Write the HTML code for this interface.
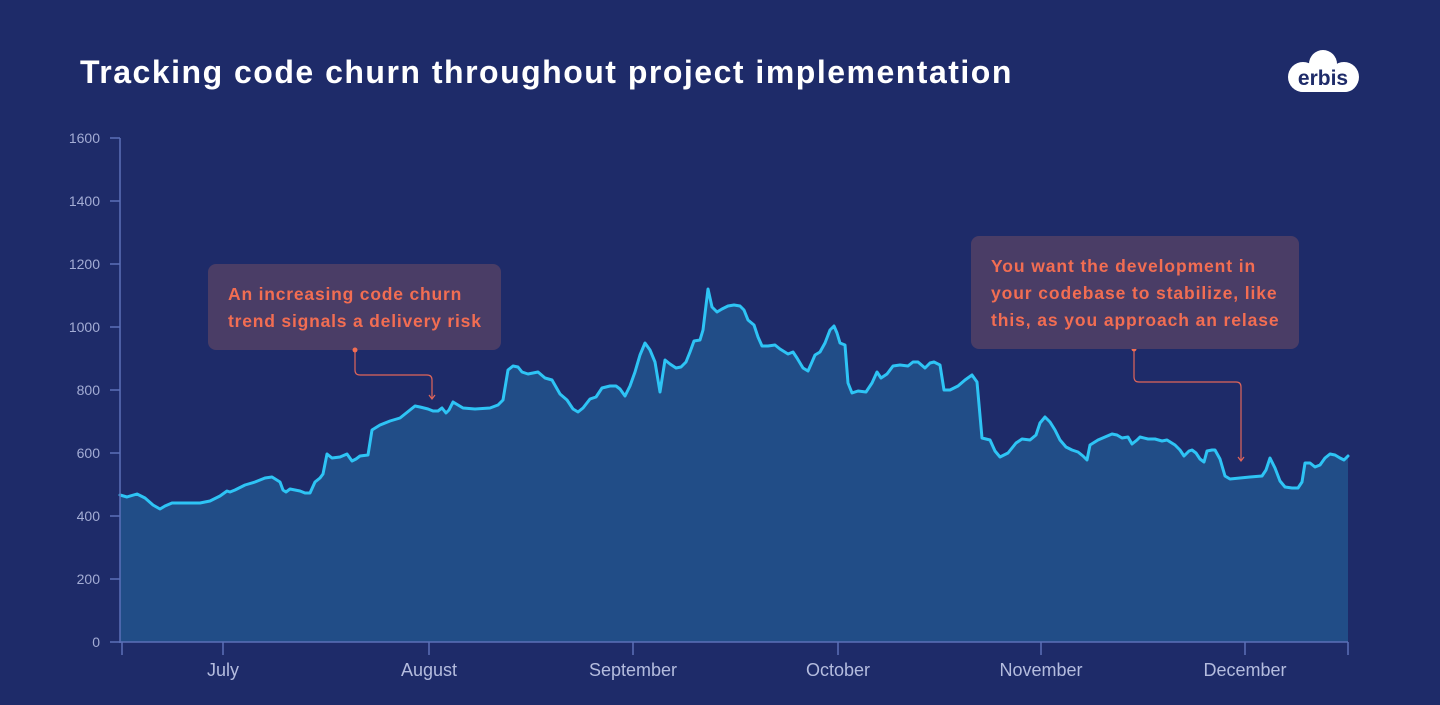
<!DOCTYPE html>
<html><head><meta charset="utf-8"><style>
body{margin:0;width:1440px;height:700px;background:#1e2b69;overflow:hidden;font-family:"Liberation Sans",sans-serif}
</style></head><body>
<svg width="1440" height="700" viewBox="0 0 1440 700" xmlns="http://www.w3.org/2000/svg">
<rect width="1440" height="700" fill="#1e2b69"/>
<text x="80" y="83" fill="#fff" font-size="32" font-weight="bold" letter-spacing="1.5" font-family="Liberation Sans, sans-serif">Tracking code churn throughout project implementation</text>
<!-- logo -->
<g fill="#fff">
<circle cx="1323" cy="64" r="14"/><circle cx="1303" cy="77" r="15"/><circle cx="1344" cy="77" r="15"/>
<rect x="1290" y="66" width="68" height="26" rx="13"/>
</g>
<text x="1323" y="85" text-anchor="middle" fill="#1e2b69" font-size="21" font-weight="bold" font-family="Liberation Sans, sans-serif">erbis</text>
<!-- area -->
<polygon fill="#214d87" points="120,642 120,495 127,497 137,494 145,498 153,505 160,509 165,506 172,503 185,503 200,503 210,501 220,496 227,491 230,492 235,490 245,485 255,482 265,478 272,477 280,482 283,490 286,492 290,489 300,491 305,493 310,493 315,482 320,478 323,474 327,454 332,458 340,457 347,454 352,461 356,459 360,456 368,455 372,430 380,425 390,421 400,418 405,414 410,410 415,406 420,407 428,409 433,411 438,411 442,408 446,413 449,410 453,402 458,405 463,408 475,409 490,408 498,405 503,400 508,370 513,366 518,367 522,372 528,374 533,373 538,372 545,378 552,380 560,394 567,400 573,409 578,412 583,408 590,399 596,397 602,388 610,386 616,386 620,389 625,396 630,386 635,372 640,355 645,343 650,350 655,362 660,392 665,360 670,364 676,368 681,367 686,362 690,352 694,341 700,340 703,330 708,289 712,307 717,312 722,309 728,306 734,305 740,306 744,310 748,320 754,325 758,337 762,346 768,346 775,345 780,349 788,354 793,352 797,358 803,368 808,371 812,362 815,355 820,352 825,343 830,330 834,326 837,333 840,343 845,345 848,383 852,393 858,391 866,392 872,383 877,372 881,378 887,374 893,366 900,365 908,366 913,362 918,362 925,368 930,363 934,362 940,365 944,390 950,390 958,386 965,380 972,375 977,382 982,438 990,440 995,451 1000,457 1008,453 1016,443 1022,439 1030,440 1036,435 1040,423 1045,417 1050,422 1055,430 1060,440 1066,447 1072,450 1078,452 1083,456 1087,460 1090,445 1098,440 1105,437 1112,434 1117,435 1122,438 1128,437 1132,444 1137,440 1140,437 1148,439 1155,439 1162,441 1167,440 1175,445 1180,450 1184,456 1189,451 1192,450 1196,453 1200,459 1204,462 1207,451 1212,450 1215,450 1220,459 1225,476 1230,479 1240,478 1250,477 1262,476 1266,470 1270,458 1275,468 1280,481 1285,487 1292,488 1298,488 1302,482 1305,463 1310,463 1315,467 1320,465 1325,458 1330,454 1335,455 1340,458 1344,460 1348,456 1348,642"/>
<polyline fill="none" stroke="#2ec4f5" stroke-width="3" stroke-linejoin="round" stroke-linecap="round" points="120,495 127,497 137,494 145,498 153,505 160,509 165,506 172,503 185,503 200,503 210,501 220,496 227,491 230,492 235,490 245,485 255,482 265,478 272,477 280,482 283,490 286,492 290,489 300,491 305,493 310,493 315,482 320,478 323,474 327,454 332,458 340,457 347,454 352,461 356,459 360,456 368,455 372,430 380,425 390,421 400,418 405,414 410,410 415,406 420,407 428,409 433,411 438,411 442,408 446,413 449,410 453,402 458,405 463,408 475,409 490,408 498,405 503,400 508,370 513,366 518,367 522,372 528,374 533,373 538,372 545,378 552,380 560,394 567,400 573,409 578,412 583,408 590,399 596,397 602,388 610,386 616,386 620,389 625,396 630,386 635,372 640,355 645,343 650,350 655,362 660,392 665,360 670,364 676,368 681,367 686,362 690,352 694,341 700,340 703,330 708,289 712,307 717,312 722,309 728,306 734,305 740,306 744,310 748,320 754,325 758,337 762,346 768,346 775,345 780,349 788,354 793,352 797,358 803,368 808,371 812,362 815,355 820,352 825,343 830,330 834,326 837,333 840,343 845,345 848,383 852,393 858,391 866,392 872,383 877,372 881,378 887,374 893,366 900,365 908,366 913,362 918,362 925,368 930,363 934,362 940,365 944,390 950,390 958,386 965,380 972,375 977,382 982,438 990,440 995,451 1000,457 1008,453 1016,443 1022,439 1030,440 1036,435 1040,423 1045,417 1050,422 1055,430 1060,440 1066,447 1072,450 1078,452 1083,456 1087,460 1090,445 1098,440 1105,437 1112,434 1117,435 1122,438 1128,437 1132,444 1137,440 1140,437 1148,439 1155,439 1162,441 1167,440 1175,445 1180,450 1184,456 1189,451 1192,450 1196,453 1200,459 1204,462 1207,451 1212,450 1215,450 1220,459 1225,476 1230,479 1240,478 1250,477 1262,476 1266,470 1270,458 1275,468 1280,481 1285,487 1292,488 1298,488 1302,482 1305,463 1310,463 1315,467 1320,465 1325,458 1330,454 1335,455 1340,458 1344,460 1348,456"/>
<!-- axes -->
<g stroke="#5b70b8" stroke-width="1.5">
<line x1="120" y1="138" x2="120" y2="643"/>
<line x1="110" y1="642" x2="1348" y2="642"/>
<line x1="110" y1="579" x2="120" y2="579"/><line x1="110" y1="516" x2="120" y2="516"/><line x1="110" y1="453" x2="120" y2="453"/><line x1="110" y1="390" x2="120" y2="390"/><line x1="110" y1="327" x2="120" y2="327"/><line x1="110" y1="264" x2="120" y2="264"/><line x1="110" y1="201" x2="120" y2="201"/><line x1="110" y1="138" x2="120" y2="138"/>
<line x1="122" y1="642" x2="122" y2="655"/><line x1="223" y1="642" x2="223" y2="655"/><line x1="429" y1="642" x2="429" y2="655"/><line x1="633" y1="642" x2="633" y2="655"/><line x1="838" y1="642" x2="838" y2="655"/><line x1="1041" y1="642" x2="1041" y2="655"/><line x1="1245" y1="642" x2="1245" y2="655"/><line x1="1348" y1="642" x2="1348" y2="655"/>
</g>
<g fill="#a3acd4" font-size="14" text-anchor="end" font-family="Liberation Sans, sans-serif">
<text x="100" y="647">0</text><text x="100" y="584">200</text><text x="100" y="521">400</text><text x="100" y="458">600</text><text x="100" y="395">800</text><text x="100" y="332">1000</text><text x="100" y="269">1200</text><text x="100" y="206">1400</text><text x="100" y="143">1600</text>
</g>
<g fill="#b4bcde" font-size="18" text-anchor="middle" font-family="Liberation Sans, sans-serif">
<text x="223" y="676">July</text><text x="429" y="676">August</text><text x="633" y="676">September</text><text x="838" y="676">October</text><text x="1041" y="676">November</text><text x="1245" y="676">December</text>
</g>
<!-- annotations -->
<rect x="208" y="264" width="293" height="86" rx="8" fill="#4a3d66"/>
<g fill="#f26d52" font-size="17.5" font-weight="bold" letter-spacing="0.8" font-family="Liberation Sans, sans-serif">
<text x="228" y="300">An increasing code churn</text>
<text x="228" y="327">trend signals a delivery risk</text>
</g>
<g stroke="#e0655a" stroke-width="1.2" fill="none">
<path d="M355 351 V370 Q355 375 360 375 H427 Q432 375 432 380 V398"/>
<path d="M429 395 L432 399 L435 395"/>
<path d="M1134 349 V377 Q1134 382 1139 382 H1236 Q1241 382 1241 387 V460"/>
<path d="M1238 457 L1241 461 L1244 457"/>
</g>
<circle cx="355" cy="350" r="2.5" fill="#f26d52"/>
<circle cx="1134" cy="349" r="2.5" fill="#f26d52"/>
<rect x="971" y="236" width="328" height="113" rx="8" fill="#4a3d66"/>
<g fill="#f26d52" font-size="17.5" font-weight="bold" letter-spacing="0.9" font-family="Liberation Sans, sans-serif">
<text x="991" y="272">You want the development in</text>
<text x="991" y="299">your codebase to stabilize, like</text>
<text x="991" y="326">this, as you approach an relase</text>
</g>
</svg>
</body></html>
